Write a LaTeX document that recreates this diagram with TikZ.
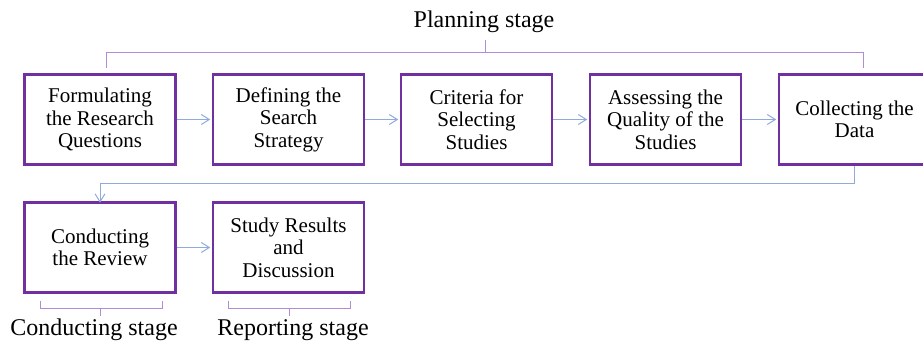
\documentclass[tikz,border=0pt]{standalone}
\usepackage{fontspec}
\setmainfont{Liberation Serif}
\usetikzlibrary{arrows.meta}
\definecolor{boxpurple}{HTML}{7030A0}
\definecolor{bracepurple}{HTML}{B08ED6}
\definecolor{arrowblue}{HTML}{8FAADC}
\begin{document}
\begin{tikzpicture}[x=1pt,y=-1pt,
  stepbox/.style={draw=boxpurple,line width=2.6pt,minimum width=151pt,minimum height=90pt,
    inner sep=0pt,align=center,font=\fontsize{21}{22.5}\selectfont},
  flow/.style={draw=arrowblue,line width=1pt,-{Straight Barb[length=8pt,width=10pt]}},
  bracket/.style={draw=bracepurple,line width=1pt},
  stagelabel/.style={font=\fontsize{24}{26}\selectfont,inner sep=0pt,anchor=base}]
\useasboundingbox (0,0) rectangle (923,344);
\node[stepbox] (b1) at (100,119.5) {Formulating\\the Research\\Questions};
\node[stepbox] (b2) at (288.5,119.5) {Defining the\\Search\\Strategy};
\node[stepbox] (b3) at (476.5,119.5) {Criteria for\\Selecting\\Studies};
\node[stepbox] (b4) at (665.5,119.5) {Assessing the\\Quality of the\\Studies};
\node[stepbox] (b5) at (854.5,119.5) {Collecting the\\Data};
\node[stepbox] (b6) at (100,247.5) {Conducting\\the Review};
\node[stepbox] (b7) at (288.5,247.5) {Study Results\\and\\Discussion};
\draw[flow] (b1.east) -- ([xshift=-1.5pt]b2.west);
\draw[flow] (b2.east) -- ([xshift=-1.5pt]b3.west);
\draw[flow] (b3.east) -- ([xshift=-1.5pt]b4.west);
\draw[flow] (b4.east) -- ([xshift=-1.5pt]b5.west);
\draw[flow] (b6.east) -- ([xshift=-1.5pt]b7.west);
\draw[flow] (b5.south) -- (854.5,184) -| ([yshift=-1.5pt]b6.north);
% planning bracket
\coordinate (pl) at (106,68);
\coordinate (pr) at (863,68);
\coordinate (pm) at (485,40);
\draw[bracket] (pl) -- (106,53) -- (863,53) -- (pr);
\draw[bracket] (485,53) -- (pm);
\node[stagelabel] (planning) at (484,28) {Planning stage};
% conducting bracket
\coordinate (cm) at (100,316);
\draw[bracket] (40,301) -- (40,309) -- (162,309) -- (162,301);
\draw[bracket] (100,309) -- (cm);
\node[stagelabel] (conducting) at (94,336) {Conducting stage};
% reporting bracket
\coordinate (rm) at (289,316);
\draw[bracket] (228,301) -- (228,309) -- (350,309) -- (350,301);
\draw[bracket] (289,309) -- (rm);
\node[stagelabel] (reporting) at (293,336) {Reporting stage};
\end{tikzpicture}
\end{document}
